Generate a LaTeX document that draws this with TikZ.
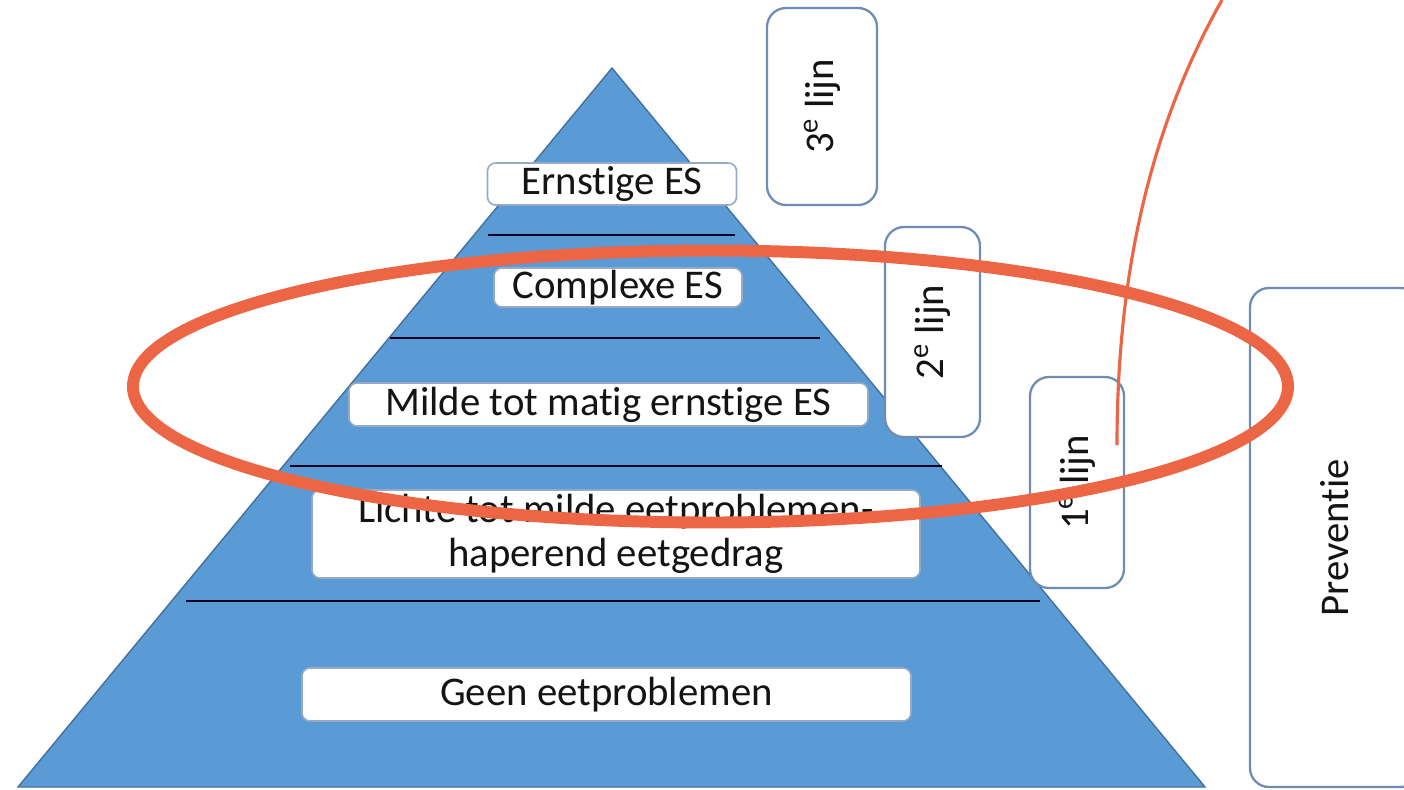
\documentclass[tikz,border=0pt]{standalone}
\usepackage{fontspec}
\setmainfont{Carlito}[Ligatures=NoCommon]
\definecolor{pyr}{RGB}{91,155,213}
\definecolor{pyredge}{RGB}{65,113,156}
\definecolor{lvlborder}{RGB}{150,170,195}
\definecolor{sideborder}{RGB}{110,140,180}
\definecolor{redmark}{RGB}{236,101,68}
\definecolor{txt}{RGB}{20,20,20}
\begin{document}
\begin{tikzpicture}[x=0.02cm,y=-0.02cm,
  lvl/.style 2 args={draw=lvlborder, line width=0.9pt, fill=white, rounded corners=0.16cm,
     minimum width=#1*0.02cm, minimum height=#2*0.02cm, inner sep=0pt,
     font=\fontsize{23.2}{25}\selectfont, text=txt, align=center},
  side/.style 2 args={draw=sideborder, line width=1.3pt, fill=white, rounded corners=0.38cm,
     rotate=90, minimum width=#1*0.02cm, minimum height=#2*0.02cm, inner sep=0pt,
     font=\fontsize{23.2}{25}\selectfont, text=txt},
  sep/.style={draw=black!85!blue, line width=1.5pt}
]
\useasboundingbox (0,0) rectangle (1404,789);
\clip (0,0) rectangle (1404,789);
% pyramid
\coordinate (apex) at (612,68);
\coordinate (bl) at (18,787);
\coordinate (br) at (1205,787);
\fill[pyr, draw=pyredge, line width=0.8pt] (bl) -- (apex) -- (br) -- cycle;
% separator lines
\coordinate (s1a) at (488,235); \coordinate (s1b) at (735,235);
\coordinate (s2a) at (390,338); \coordinate (s2b) at (820,338);
\coordinate (s3a) at (290,466); \coordinate (s3b) at (942,466);
\coordinate (s4a) at (186,601); \coordinate (s4b) at (1040,601);
\draw[sep] (s1a) -- (s1b);
\draw[sep] (s2a) -- (s2b);
\draw[sep] (s3a) -- (s3b);
\draw[sep] (s4a) -- (s4b);
% level boxes
\node[lvl={249}{42}] (ernstig) at (612,184) {Ernstige ES};
\node[lvl={248}{39}] (complex) at (618,287.5) {Complexe ES};
\node[lvl={519}{43}] (milde) at (608.5,404.5) {Milde tot matig ernstige ES};
\node[lvl={608}{88}] (lichte) at (616,534) {Lichte tot milde eetproblemen-\\haperend eetgedrag};
\node[lvl={609}{53}] (geen) at (606.5,694.5) {Geen eetproblemen};
% side boxes
\node[side={197}{110}] (l3) at (822,106.5) {3\textsuperscript{e} lijn};
\node[side={210}{95}] (l2) at (932.5,332) {2\textsuperscript{e} lijn};
\node[side={211}{94}] (l1) at (1077,482.5) {1\textsuperscript{e} lijn};
\node[side={499}{170}] (prev) at (1335,537.5) {Preventie};
% red annotation
\draw[redmark, line width=6.8pt] (710.5,386.5) ellipse [x radius=577.5, y radius=136];
\coordinate (rstart) at (1222,0);
\coordinate (rend) at (1117,445);
\draw[redmark, line width=1.8pt] (rstart) .. controls (1160,110) and (1117,250) .. (rend);
\end{tikzpicture}
\end{document}
